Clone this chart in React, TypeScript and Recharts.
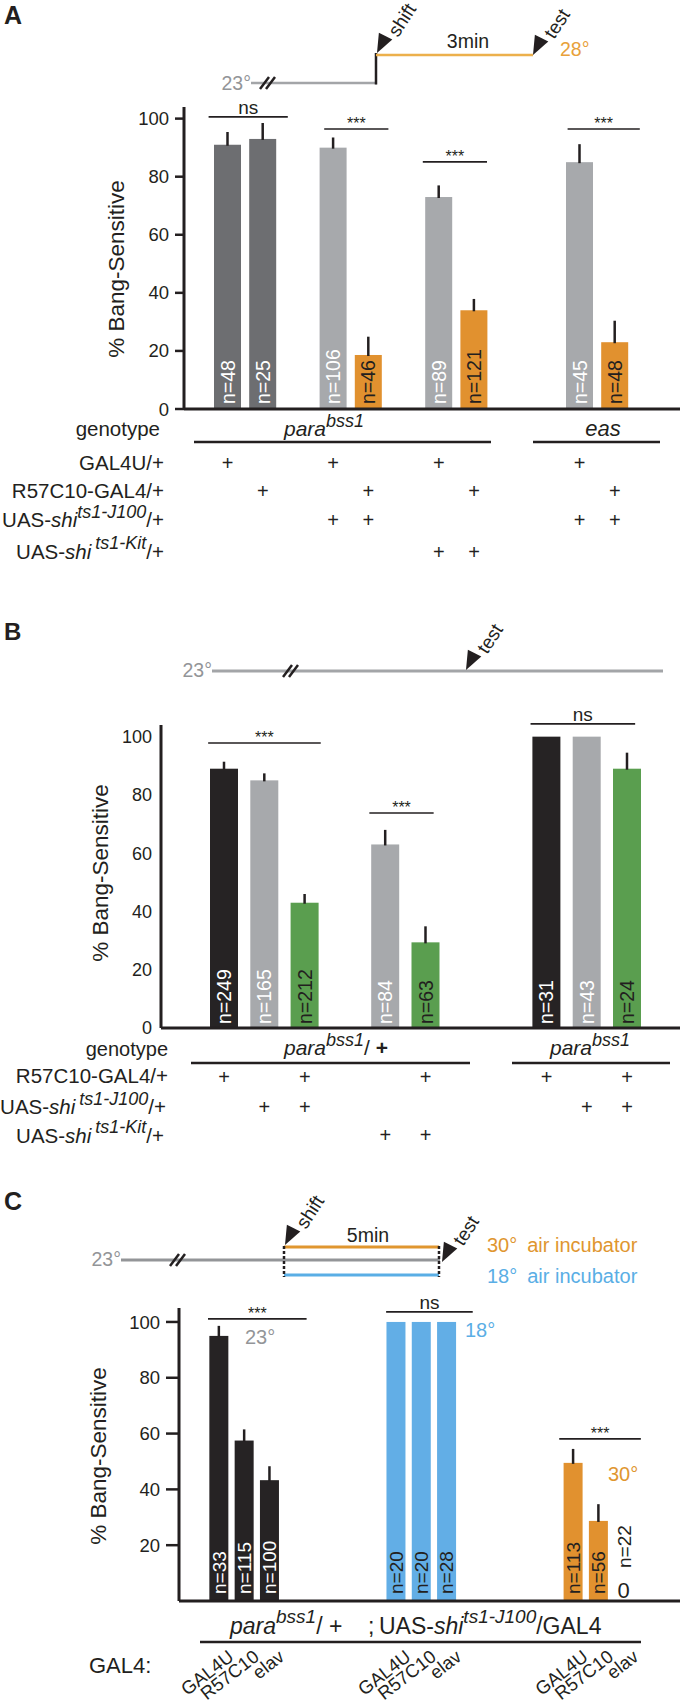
import React from "react";
import { Bar, BarChart, ReferenceLine, XAxis, YAxis } from "recharts";

const FONT = '"Liberation Sans", Arial, Helvetica, sans-serif';
const INK = "#231f20";
const DARK_GRAY = "#6d6e71";
const LIGHT_GRAY = "#a7a9ac";
const ORANGE = "#e1912f";
const GREEN = "#5a9e4f";
const BLUE = "#62aee6";
const LINE_GRAY = "#a3a5a8";
const TEXT_GRAY = "#939598";

// ---------- panel A (3 min at 28°) ----------
const A_KEYS = [
  "bss1 GAL4U", "bss1 R57C10", "gapA1",
  "bss1 GAL4U J100", "bss1 R57C10 J100", "gapA2",
  "bss1 GAL4U Kit", "bss1 R57C10 Kit", "gapA3", "gapA4",
  "eas GAL4U J100", "eas R57C10 J100",
];
const A_VALUES = [91, 93, null, 90, 18.6, null, 73, 34, null, null, 85, 23];
const A_ERRORS = [4.4, 5.5, null, 3.5, 6.3, null, 4, 3.9, null, null, 6.2, 7.4];
const A_N = [48, 25, null, 106, 46, null, 89, 121, null, null, 45, 48];
const A_GAL4U = [1, 0, 0, 1, 0, 0, 1, 0, 0, 0, 1, 0];
const A_R57C10 = [0, 1, 0, 0, 1, 0, 0, 1, 0, 0, 0, 1];
const A_J100 = [0, 0, 0, 1, 1, 0, 0, 0, 0, 0, 1, 1];
const A_KIT = [0, 0, 0, 0, 0, 0, 1, 1, 0, 0, 0, 0];
const A_TICKS = [0, 20, 40, 60, 80, 100];

// ---------- panel B (23°, no shift) ----------
const B_KEYS = [
  "het R57C10", "het J100", "het R57C10 J100", "gapB1",
  "het Kit", "het R57C10 Kit", "gapB2", "gapB3",
  "hom R57C10", "hom J100", "hom R57C10 J100",
];
const B_VALUES = [89, 85, 43, null, 63, 29.4, null, null, 100, 100, 89];
const B_ERRORS = [2.4, 2.4, 3, null, 5, 5.5, null, null, 0, 0, 5.5];
const B_N = [249, 165, 212, null, 84, 63, null, null, 31, 43, 24];
const B_R57C10 = [1, 0, 1, 0, 0, 1, 0, 0, 1, 0, 1];
const B_J100 = [0, 1, 1, 0, 0, 0, 0, 0, 0, 1, 1];
const B_KIT = [0, 0, 0, 0, 1, 1, 0, 0, 0, 0, 0];
const B_TICKS = [0, 20, 40, 60, 80, 100];

// ---------- panel C (5 min in air incubator) ----------
const C_KEYS = [
  "GAL4U 23", "R57C10 23", "elav 23", "gapC1", "gapC2", "gapC3", "gapC4",
  "GAL4U 18", "R57C10 18", "elav 18", "gapC5", "gapC6", "gapC7", "gapC8",
  "GAL4U 30", "R57C10 30", "elav 30",
];
const C_DRIVER = [
  "GAL4U", "R57C10", "elav", "", "", "", "",
  "GAL4U", "R57C10", "elav", "", "", "", "",
  "GAL4U", "R57C10", "elav",
];
const C_TEMP = [23, 23, 23, null, null, null, null, 18, 18, 18, null, null, null, null, 30, 30, 30];
const C_VALUES = [95, 57.5, 43.3, null, null, null, null, 100, 100, 100, null, null, null, null, 49.5, 28.7, 0];
const C_ERRORS = [3.6, 4, 5, null, null, null, null, 0, 0, 0, null, null, null, null, 5, 6, 0];
const C_N = [33, 115, 100, null, null, null, null, 20, 20, 28, null, null, null, null, 113, 56, 22];
const C_TICKS = [20, 40, 60, 80, 100];

// significance brackets
const A_SIG = [
  { from: "bss1 GAL4U", to: "bss1 R57C10", level: 100.6, text: "ns", padL: 19, padR: 25 },
  { from: "bss1 GAL4U J100", to: "bss1 R57C10 J100", level: 96.4, text: "***", padL: 9, padR: 20 },
  { from: "bss1 GAL4U Kit", to: "bss1 R57C10 Kit", level: 85.1, text: "***", padL: 16, padR: 13 },
  { from: "eas GAL4U J100", to: "eas R57C10 J100", level: 96.4, text: "***", padL: 12, padR: 25 },
];
const B_SIG = [
  { from: "het R57C10", to: "het R57C10 J100", level: 97.8, text: "***", padL: 16, padR: 16 },
  { from: "het Kit", to: "het R57C10 Kit", level: 73.8, text: "***", padL: 16, padR: 8 },
  { from: "hom R57C10", to: "hom R57C10 J100", level: 104.4, text: "ns", padL: 16, padR: 8 },
];
const C_SIG = [
  { from: "GAL4U 23", to: "elav 23", level: 101.1, text: "***", padL: 11, padR: 37 },
  { from: "GAL4U 18", to: "elav 18", level: 103.6, text: "ns", padL: 10, padR: 26 },
  { from: "GAL4U 30", to: "elav 30", level: 58.1, text: "***", padL: 14, padR: 17 },
];

const aData = A_KEYS.map((key, i) => {
  const uas = A_J100[i] || A_KIT[i];
  const fill = !uas ? DARK_GRAY : A_R57C10[i] ? ORANGE : LIGHT_GRAY;
  return { key, value: A_VALUES[i], err: A_ERRORS[i], n: A_N[i], fill, labelFill: fill === ORANGE ? INK : "#fff" };
});

const bData = B_KEYS.map((key, i) => {
  const uas = B_J100[i] || B_KIT[i];
  const fill = uas && B_R57C10[i] ? GREEN : uas ? LIGHT_GRAY : "#262324";
  return { key, value: B_VALUES[i], err: B_ERRORS[i], n: B_N[i], fill, labelFill: fill === GREEN ? INK : "#fff" };
});

const cData = C_KEYS.map((key, i) => {
  const t = C_TEMP[i];
  const fill = t === 18 ? BLUE : t === 30 ? ORANGE : "#262324";
  return { key, value: C_VALUES[i], err: C_ERRORS[i], n: C_N[i], fill, labelFill: t === 23 ? "#fff" : INK };
});

function makeShape(gap: number, size: number) {
  return (props: any) => {
    const { x, y, width, height } = props;
    const d = props.payload ?? props;
    if (!d || d.value == null || !Number.isFinite(x) || !Number.isFinite(y)) return <g />;
    const cx = x + width / 2;
    const bottom = y + height;
    const shift = size * 0.36;
    if (d.value === 0) {
      return (
        <g>
          <text x={cx} y={bottom - 3} textAnchor="middle" fontSize={22} fill={INK}>0</text>
          <text transform={`translate(${cx + shift},${bottom - 33}) rotate(-90)`} fontSize={size} fill={INK}>
            n={d.n}
          </text>
        </g>
      );
    }
    const perUnit = height / d.value;
    return (
      <g>
        <rect x={x} y={y} width={width} height={height} fill={d.fill} />
        {d.err ? (
          <line x1={cx} x2={cx} y1={y + 1} y2={y - d.err * perUnit} stroke={INK} strokeWidth={2.5} />
        ) : null}
        <text transform={`translate(${cx + shift},${bottom - gap}) rotate(-90)`} fontSize={size} fill={d.labelFill}>
          n={d.n}
        </text>
      </g>
    );
  };
}

function sigShape(spec: any) {
  return (p: any) => {
    const l = Math.min(p.x1, p.x2) - spec.padL;
    const r = Math.max(p.x1, p.x2) + spec.padR;
    const y = p.y1;
    const stars = spec.text === "***";
    return (
      <g>
        <line x1={l} x2={r} y1={y} y2={y} stroke={INK} strokeWidth={1.6} />
        <text x={(l + r) / 2} y={stars ? y : y - 3} textAnchor="middle" fontSize={stars ? 16 : 19} fill={INK}>
          {spec.text}
        </text>
      </g>
    );
  };
}

function sigLines(list: any[]) {
  return list.map((s) => (
    <ReferenceLine
      key={s.from + s.to}
      segment={[{ x: s.from, y: s.level }, { x: s.to, y: s.level }]}
      ifOverflow="visible"
      shape={sigShape(s)}
    />
  ));
}

function plusTick(keys: string[], rows: number[][], ys: number[]) {
  return (p: any) => {
    const i = keys.indexOf(p.payload?.value);
    return (
      <g>
        {rows.map((r, j) =>
          r[i] ? (
            <text key={j} x={p.x} y={ys[j]} textAnchor="middle" fontSize={20} fill={INK}>+</text>
          ) : null
        )}
      </g>
    );
  };
}

const cTick = (p: any) => {
  const i = C_KEYS.indexOf(p.payload?.value);
  const lab = C_DRIVER[i];
  if (!lab) return <g />;
  return (
    <text transform={`translate(${p.x + 16},369) rotate(-38)`} textAnchor="end" fontSize={18.5} fill={INK}>
      {lab}
    </text>
  );
};

const axisLine = { stroke: INK, strokeWidth: 3 };
const tickText = { fontSize: 18.5, fill: INK };

function Arrow({ x, y, label }: { x: number; y: number; label: string }) {
  return (
    <g>
      <polygon points={`${x},${y} ${x + 15.3},${y - 13.5} ${x + 1.9},${y - 20.3}`} fill={INK} />
      <text transform={`translate(${x + 21},${y - 15}) rotate(-57)`} fontSize={19} fill={INK}>{label}</text>
    </g>
  );
}

function Slash({ x, y }: { x: number; y: number }) {
  return (
    <g stroke={INK} strokeWidth={2.5}>
      <line x1={x - 8} y1={y + 6} x2={x + 1} y2={y - 6} />
      <line x1={x - 2} y1={y + 6} x2={x + 7} y2={y - 6} />
    </g>
  );
}

function Overlay() {
  return (
    <svg width={680} height={1706} style={{ position: "absolute", left: 0, top: 0, pointerEvents: "none" }} fill={INK}>
      {/* ---- A ---- */}
      <text x={4} y={24} fontSize={25} fontWeight="bold">A</text>
      <text x={251} y={90} textAnchor="end" fontSize={19.5} fill={TEXT_GRAY}>23°</text>
      <line x1={251} x2={377} y1={83} y2={83} stroke={LINE_GRAY} strokeWidth={2.5} />
      <Slash x={268} y={83} />
      <line x1={376} x2={376} y1={53} y2={84.5} stroke={INK} strokeWidth={2.5} />
      <line x1={376} x2={533} y1={55} y2={55} stroke="#ecb04c" strokeWidth={2.5} />
      <Arrow x={377} y={53} label="shift" />
      <text x={468} y={48} textAnchor="middle" fontSize={19.5}>3min</text>
      <Arrow x={533} y={55} label="test" />
      <text x={560} y={56} fontSize={19.5} fill="#e8a13a">28°</text>
      <text transform="translate(116,269) rotate(-90)" textAnchor="middle" dy="0.35em" fontSize={22.5}>% Bang-Sensitive</text>

      <text x={160} y={436} textAnchor="end" fontSize={20.5}>genotype</text>
      <text x={324} y={436} textAnchor="middle" fontSize={21} fontStyle="italic">
        para<tspan dy={-9} fontSize={18}>bss1</tspan>
      </text>
      <text x={603} y={436} textAnchor="middle" fontSize={22} fontStyle="italic">eas</text>
      <line x1={194} x2={491} y1={442} y2={442} stroke={INK} strokeWidth={2.5} />
      <line x1={533} x2={660} y1={442} y2={442} stroke={INK} strokeWidth={2.5} />
      <text x={164} y={470} textAnchor="end" fontSize={20.5}>GAL4U/+</text>
      <text x={164} y={498} textAnchor="end" fontSize={20.5}>R57C10-GAL4/+</text>
      <text x={164} y={527} textAnchor="end" fontSize={20.5}>
        UAS-<tspan fontStyle="italic">shi</tspan>
        <tspan fontStyle="italic" fontSize={18} dy={-9}>ts1-J100</tspan>
        <tspan dy={9}>/+</tspan>
      </text>
      <text x={164} y={559} textAnchor="end" fontSize={20.5}>
        UAS-<tspan fontStyle="italic">shi</tspan>
        <tspan fontStyle="italic" fontSize={18} dy={-10} dx={4}>ts1-Kit</tspan>
        <tspan dy={10}>/+</tspan>
      </text>

      {/* ---- B ---- */}
      <text x={4} y={640} fontSize={24} fontWeight="bold">B</text>
      <text x={212} y={677} textAnchor="end" fontSize={19.5} fill={TEXT_GRAY}>23°</text>
      <line x1={212} x2={663} y1={671} y2={671} stroke={LINE_GRAY} strokeWidth={3} />
      <Slash x={291} y={671} />
      <Arrow x={466} y={670} label="test" />
      <text transform="translate(100,873) rotate(-90)" textAnchor="middle" dy="0.35em" fontSize={22.5}>% Bang-Sensitive</text>

      <text x={168} y={1056} textAnchor="end" fontSize={20}>genotype</text>
      <text x={336} y={1055} textAnchor="middle" fontSize={21}>
        <tspan fontStyle="italic">para</tspan>
        <tspan fontStyle="italic" dy={-9} fontSize={18}>bss1</tspan>
        <tspan dy={9}>/ </tspan>
        <tspan fontWeight="bold">+</tspan>
      </text>
      <text x={590} y={1055} textAnchor="middle" fontSize={21} fontStyle="italic">
        para<tspan dy={-9} fontSize={18}>bss1</tspan>
      </text>
      <line x1={191} x2={470} y1={1063} y2={1063} stroke={INK} strokeWidth={2.5} />
      <line x1={512} x2={670} y1={1063} y2={1063} stroke={INK} strokeWidth={2.5} />
      <text x={168} y={1083} textAnchor="end" fontSize={20.5}>R57C10-GAL4/+</text>
      <text x={166} y={1114} textAnchor="end" fontSize={20.5}>
        UAS-<tspan fontStyle="italic">shi</tspan>
        <tspan fontStyle="italic" fontSize={18} dy={-9} dx={4}>ts1-J100</tspan>
        <tspan dy={9}>/+</tspan>
      </text>
      <text x={164} y={1143} textAnchor="end" fontSize={20.5}>
        UAS-<tspan fontStyle="italic">shi</tspan>
        <tspan fontStyle="italic" fontSize={18} dy={-10} dx={4}>ts1-Kit</tspan>
        <tspan dy={10}>/+</tspan>
      </text>

      {/* ---- C ---- */}
      <text x={4} y={1210} fontSize={25} fontWeight="bold">C</text>
      <text x={121} y={1266} textAnchor="end" fontSize={19.5} fill={TEXT_GRAY}>23°</text>
      <line x1={121} x2={440} y1={1260} y2={1260} stroke={TEXT_GRAY} strokeWidth={3} />
      <Slash x={178} y={1260} />
      <line x1={284} x2={439} y1={1247} y2={1247} stroke="#e0962f" strokeWidth={3} />
      <line x1={284} x2={439} y1={1275} y2={1275} stroke="#5aaee5" strokeWidth={3} />
      <line x1={284} x2={284} y1={1246} y2={1277} stroke={INK} strokeWidth={2.5} strokeDasharray="3 2" />
      <line x1={439} x2={439} y1={1246} y2={1277} stroke={INK} strokeWidth={2.5} strokeDasharray="3 2" />
      <Arrow x={285} y={1245} label="shift" />
      <text x={368} y={1242} textAnchor="middle" fontSize={19.5}>5min</text>
      <Arrow x={442} y={1262} label="test" />
      <text x={487} y={1252} fontSize={20} fill="#e0962f">
        30°<tspan dx={10}>air incubator</tspan>
      </text>
      <text x={487} y={1283} fontSize={20} fill="#5aaee5">
        18°<tspan dx={10}>air incubator</tspan>
      </text>
      <text transform="translate(98,1456) rotate(-90)" textAnchor="middle" dy="0.35em" fontSize={22.5}>% Bang-Sensitive</text>
      <text x={245} y={1344} fontSize={20} fill={TEXT_GRAY}>23°</text>
      <text x={465} y={1337} fontSize={20} fill="#5aaee5">18°</text>
      <text x={608} y={1481} fontSize={20} fill="#e0962f">30°</text>

      <text x={230} y={1634} fontSize={23}>
        <tspan fontStyle="italic">para</tspan>
        <tspan fontStyle="italic" fontSize={19} dy={-11}>bss1</tspan>
        <tspan dy={11}>/ +</tspan>
      </text>
      <text x={368} y={1634} fontSize={23}>;</text>
      <text x={379} y={1634} fontSize={23}>
        UAS-<tspan fontStyle="italic">shi</tspan>
        <tspan fontStyle="italic" fontSize={19} dy={-11}>ts1-J100</tspan>
        <tspan dy={11}>/GAL4</tspan>
      </text>
      <line x1={200} x2={641} y1={1642} y2={1642} stroke={INK} strokeWidth={2.5} />
      <text x={89} y={1673} fontSize={22}>GAL4:</text>
    </svg>
  );
}

export default function App() {
  return (
    <div
      style={{
        position: "absolute",
        left: 0,
        top: 0,
        width: 680,
        height: 1706,
        background: "#fff",
        fontFamily: FONT,
        color: INK,
      }}
    >
      <div style={{ position: "absolute", left: 0, top: 0 }}>
        <BarChart width={680} height={570} data={aData} margin={{ top: 107, right: 0, bottom: 0, left: 0 }}>
          <XAxis
            dataKey="key"
            interval={0}
            height={161}
            tickLine={false}
            axisLine={axisLine}
            padding={{ left: 26, right: 47.6 }}
            tick={plusTick(A_KEYS, [A_GAL4U, A_R57C10, A_J100, A_KIT], [470, 498, 527, 559])}
          />
          <YAxis
            width={184}
            domain={[0, 104]}
            ticks={A_TICKS}
            tickSize={9}
            tickMargin={6}
            axisLine={axisLine}
            tickLine={{ stroke: INK, strokeWidth: 2.5 }}
            tick={tickText}
          />
          <Bar dataKey="value" barSize={27} isAnimationActive={false} shape={makeShape(5, 19.5)} />
          {sigLines(A_SIG)}
        </BarChart>
      </div>

      <div style={{ position: "absolute", left: 0, top: 600 }}>
        <BarChart width={680} height={560} data={bData} margin={{ top: 125, right: 0, bottom: 0, left: 0 }}>
          <XAxis
            dataKey="key"
            interval={0}
            height={132}
            tickLine={false}
            axisLine={axisLine}
            padding={{ left: 43, right: 32.7 }}
            tick={plusTick(B_KEYS, [B_R57C10, B_J100, B_KIT], [484, 514, 542])}
          />
          <YAxis
            width={161}
            domain={[0, 104]}
            ticks={B_TICKS}
            tickSize={0}
            tickMargin={9}
            axisLine={axisLine}
            tickLine={false}
            tick={{ fontSize: 18, fill: INK }}
          />
          <Bar dataKey="value" barSize={28} isAnimationActive={false} shape={makeShape(4, 19.5)} />
          {sigLines(B_SIG)}
        </BarChart>
      </div>

      <div style={{ position: "absolute", left: 0, top: 1290 }}>
        <BarChart width={680} height={416} data={cData} margin={{ top: 18, right: 0, bottom: 0, left: 0 }}>
          <XAxis
            dataKey="key"
            interval={0}
            height={105}
            tickLine={false}
            axisLine={axisLine}
            padding={{ left: 27.35, right: 43.5 }}
            tick={cTick}
          />
          <YAxis
            width={179}
            domain={[0, 105]}
            ticks={C_TICKS}
            tickSize={13}
            tickMargin={6}
            axisLine={axisLine}
            tickLine={{ stroke: INK, strokeWidth: 2.5 }}
            tick={tickText}
          />
          <Bar dataKey="value" barSize={19} isAnimationActive={false} shape={makeShape(7, 19)} />
          {sigLines(C_SIG)}
        </BarChart>
      </div>

      <Overlay />
    </div>
  );
}
